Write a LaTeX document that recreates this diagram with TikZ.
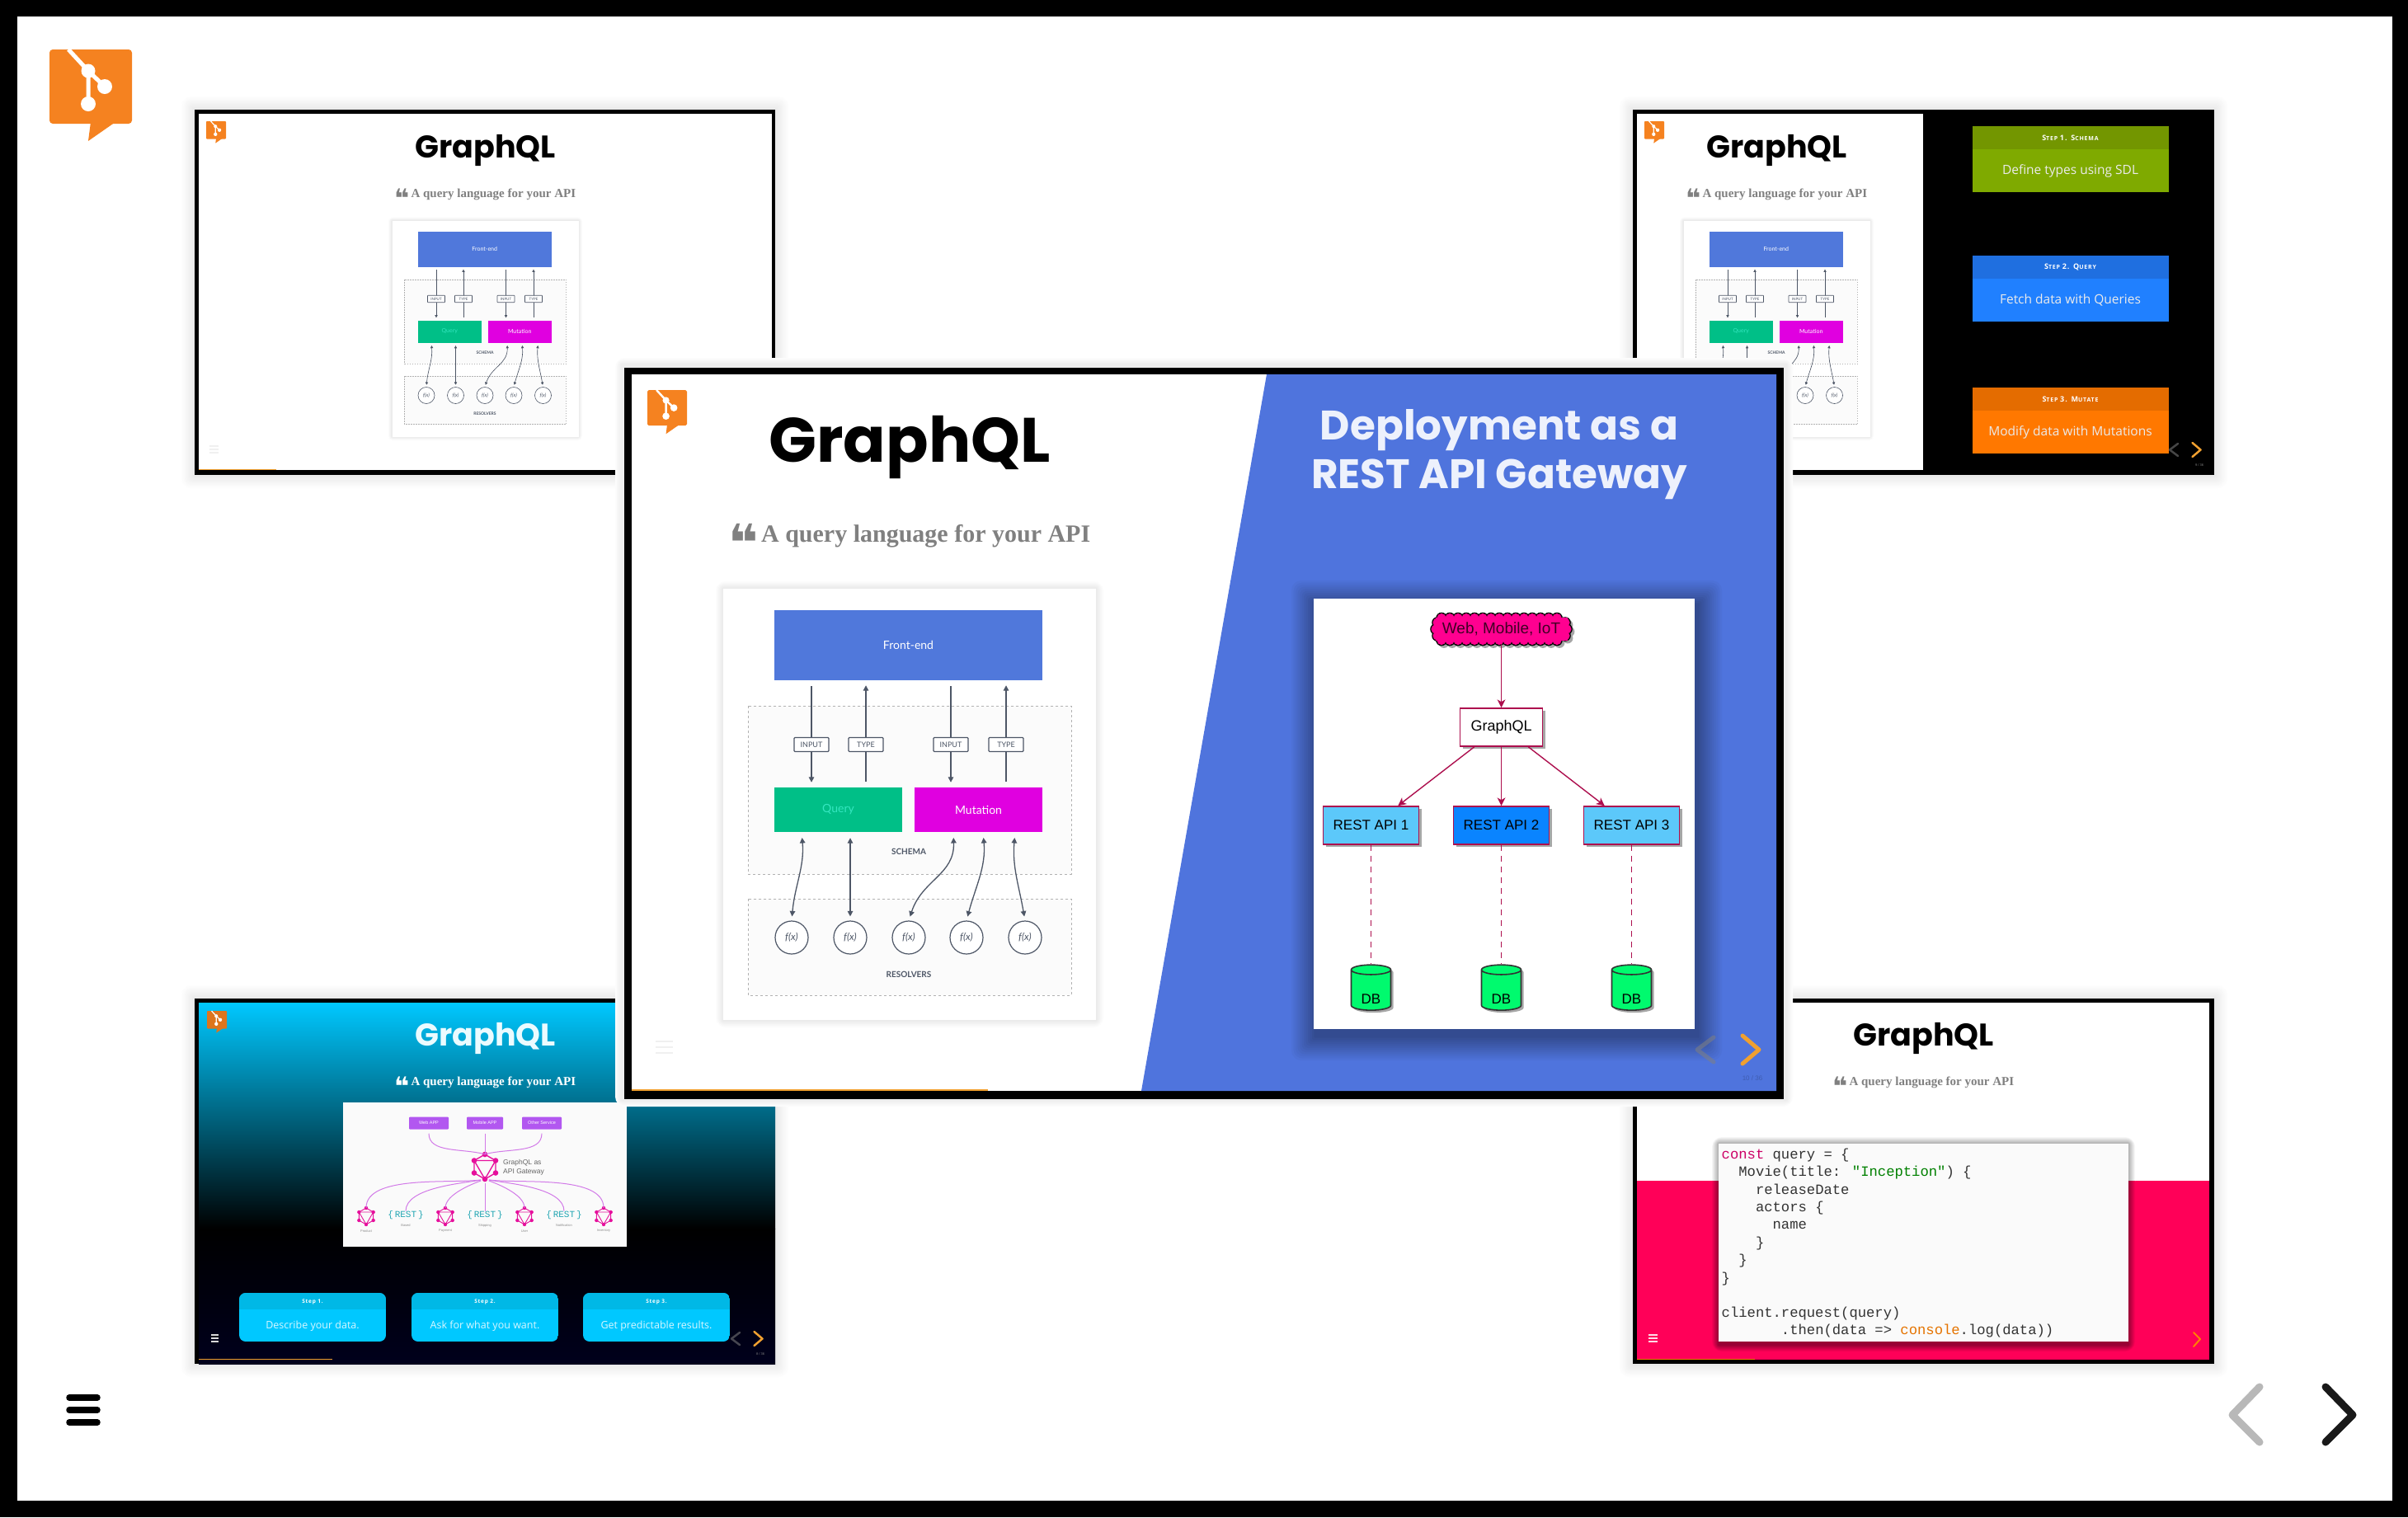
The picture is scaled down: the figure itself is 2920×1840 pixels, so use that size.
\documentclass[tikz,border=0pt]{standalone}
\usepackage{fontspec}
\usepackage{xcolor}
\setmainfont{Liberation Serif}
\newfontfamily\headfont{Poppins}
\newfontfamily\labelfont{Lato}
\newfontfamily\plainfont{Liberation Sans}
\newfontfamily\stepfont{Open Sans}
\newfontfamily\stepcaps[LetterSpace=12]{Open Sans}
\newfontfamily\codefont{Liberation Mono}
\newfontfamily\symfont{DejaVu Sans}
\usetikzlibrary{arrows.meta,calc,shapes.geometric,shadows}

\definecolor{logoorange}{HTML}{F58220}
\definecolor{slideblue}{HTML}{4F74DD}
\definecolor{frontblue}{HTML}{5078DB}
\definecolor{querygreen}{HTML}{00BF87}
\definecolor{querytext}{HTML}{35E6C0}
\definecolor{mutationpink}{HTML}{E000E0}
\definecolor{slate}{HTML}{4D5666}
\definecolor{crimson}{HTML}{AD0F4E}
\definecolor{cloudpink}{HTML}{FF0090}
\definecolor{restlight}{HTML}{5CC8FA}
\definecolor{restdark}{HTML}{0A84FF}
\definecolor{dbgreen}{HTML}{00FA6E}
\definecolor{progress}{HTML}{F0A030}
\definecolor{lilac}{HTML}{D27AE8}
\definecolor{hubpink}{HTML}{E6109C}
\definecolor{appviolet}{HTML}{B257F0}
\definecolor{restteal}{HTML}{22A6B3}
\definecolor{skyblue}{HTML}{00C8FF}
\definecolor{skyhead}{HTML}{00B8E6}
\definecolor{deepnavy}{HTML}{00001C}
\definecolor{redpink}{HTML}{FF0058}
\definecolor{oliveone}{HTML}{739600}
\definecolor{olivetwo}{HTML}{7FAA00}
\definecolor{blueone}{HTML}{1F6FE0}
\definecolor{bluetwo}{HTML}{2080FF}
\definecolor{amberone}{HTML}{E46C00}
\definecolor{ambertwo}{HTML}{FF7800}

\tikzset{
  titlelabel/.style={anchor=base,inner sep=0pt,font=\headfont\bfseries\fontsize{76}{80}\selectfont},
  quotelabel/.style={anchor=base,inner sep=0pt,font=\bfseries\fontsize{30}{36}\selectfont},
  gatewaylabel/.style={anchor=base,inner sep=0pt,text=white!90!slideblue,font=\headfont\bfseries\fontsize{50}{54}\selectfont},
  paneblock/.style={minimum width=#1,inner sep=0pt,text=white,font=\labelfont\fontsize{14}{16}\selectfont},
  flow/.style={draw=slate,line width=1.3pt,shorten >=6pt,shorten <=7pt,-{Triangle[length=0pt 5,width=0pt 5]}},
  lowflow/.style={draw=slate,line width=1.3pt,shorten >=7pt,shorten <=5pt,{Triangle[length=0pt 5,width=0pt 5]}-{Triangle[length=0pt 5,width=0pt 5]}},
  tagbox/.style={draw=slate,fill=white,rounded corners=1pt,line width=1.2pt,minimum width=42,minimum height=17,inner sep=0pt,text=slate,font=\labelfont\fontsize{9}{10}\selectfont},
  fxnode/.style={circle,draw=slate,line width=1.2pt,fill=white,minimum size=40,inner sep=0pt,text=slate,font=\labelfont\itshape\fontsize{12}{13}\selectfont},
  zonebox/.style={draw=black!30,dashed,fill=black!1.5,line width=.8pt},
  zonetag/.style={inner sep=0pt,text=slate,font=\labelfont\bfseries\fontsize{10}{11}\selectfont},
  apibox/.style={rectangle,draw=crimson,line width=1.6pt,minimum width=116,minimum height=46,inner sep=0pt,font=\plainfont\fontsize{17}{19}\selectfont,drop shadow={shadow xshift=3pt,shadow yshift=-3pt,opacity=.35,fill=black}},
  dbcyl/.style={cylinder,shape border rotate=90,aspect=.5,draw=black!80,line width=1.6pt,fill=dbgreen,minimum width=48,minimum height=55,inner sep=0pt,font=\plainfont\fontsize{17}{19}\selectfont,label={[yshift=-11pt,font=\plainfont\fontsize{17}{19}\selectfont]center:DB},drop shadow={shadow xshift=3pt,shadow yshift=-3pt,opacity=.35,fill=black}},
  gatewayline/.style={draw=crimson,line width=1.4pt,-{Stealth[length=0pt 7,width=0pt 7,inset=0pt 2]}},
  gatewaydash/.style={draw=crimson,line width=1.3pt,dash pattern=on 7pt off 6pt},
  stephead/.style={minimum width=238,minimum height=27.5,inner sep=0pt,anchor=north,text=white,font=\stepcaps\bfseries\fontsize{7}{8}\selectfont},
  stepbody/.style={minimum width=238,minimum height=52,inner sep=0pt,anchor=north,text=white!92!black,font=\stepfont\fontsize{15.5}{17}\selectfont},
  code/.style={anchor=base west,inner sep=0pt,text=black!80,font=\codefont\fontsize{17.2}{20}\selectfont},
  applink/.style={draw=lilac,line width=1pt,shorten <=5pt},
  appbox/.style={fill=appviolet,rounded corners=1pt,minimum height=15,inner sep=0pt,text=white,font=\plainfont\fontsize{5.5}{6}\selectfont},
  servicetag/.style={inner sep=0pt,text=black!45,font=\plainfont\fontsize{4}{5}\selectfont},
  restmark/.style={inner sep=0pt,text=restteal,font=\codefont\fontsize{11}{12}\selectfont}
}

\newcommand{\capone}[1]{{\fontsize{9}{9}\selectfont #1}}

\newcommand{\softbox}[7]{%
  \colorlet{softtone}{#5}%
  \foreach \s in {12,11,...,1}{
    \pgfmathsetmacro{\shadeamount}{(13-\s)/12*100}
    \fill[softtone!\shadeamount!#7,rounded corners=\s*1pt] (#1-\s*#6/12,#2-\s*#6/12) rectangle (#3+\s*#6/12,#4+\s*#6/12);
  }
}

\newcommand{\gitlogo}[4]{%
  \begin{scope}[transform canvas={shift={(#1,#2)},scale=#3}]
    \fill[#4,rounded corners=4pt] (0,0) rectangle (100,90);
    \fill[#4] (50,88) -- (47,111) -- (80,88) -- cycle;
    \draw[white,line width=5pt] (23,0) -- (47,26) -- (47,66);
    \draw[white,line width=5pt] (47,26) -- (67,45);
    \fill[white] (47,26) circle (8.5) (67,45) circle (9) (47,66) circle (9);
  \end{scope}
}

\newcommand{\chevrons}[3]{%
  \begin{scope}[transform canvas={shift={(#1,#2)},scale=#3}]
    \draw[gray,opacity=.55,line width=5pt,line cap=round,line join=round] (20,2) -- (0,17) -- (20,32);
    \draw[progress,line width=5pt,line cap=round,line join=round] (55,0) -- (75,17) -- (55,34);
  \end{scope}
}

\newcommand{\puffs}[4]{%
  \foreach \x in {1748,1758,...,1893}{\fill[#4] (\x+#1,749.5+#2) circle (#3) (\x+#1,776.5+#2) circle (#3);}
  \fill[#4] (1741+#1,763+#2) circle (#3) (1900+#1,763+#2) circle (#3) (1743+#1,755+#2) circle (#3) (1743+#1,771+#2) circle (#3) (1898+#1,755+#2) circle (#3) (1898+#1,771+#2) circle (#3);
}

\newcommand{\panehead}[2]{%
  \node[titlelabel,text=#1] (title) at (1103,560) {GraphQL};
  \node[quotelabel,text=#2] (tagline) at (1103,657) {{\symfont\fontsize{62}{62}\selectfont\raisebox{-23pt}{❝}}\kern3pt A query language for your API};
}

\newcommand{\panecard}{%
  \softbox{877}{714}{1329}{1237}{black!8}{9}{white}
  \node[fill=white,minimum width=452,minimum height=523,inner sep=0pt] (card) at (1103,975.5) {};
  \draw[zonebox] (907,856) rectangle (1299,1060);
  \draw[zonebox] (907,1090) rectangle (1299,1207);
  \node[paneblock=325,minimum height=85,fill=frontblue] (frontend) at (1101.5,782.5) {Front-end};
  \node[paneblock=155,minimum height=54,fill=querygreen,text=querytext] (query) at (1016.5,982) {Query};
  \node[paneblock=155,minimum height=54,fill=mutationpink] (mutation) at (1186.5,982) {Mutation};
  \node[inner sep=0pt] (inone) at (984,903) {};
  \node[inner sep=0pt] (typeone) at (1050,903) {};
  \node[inner sep=0pt] (intwo) at (1153,903) {};
  \node[inner sep=0pt] (typetwo) at (1220,903) {};
  \draw[flow] (frontend.south -| inone) -- (query.north -| inone);
  \draw[flow] (query.north -| typeone) -- (frontend.south -| typeone);
  \draw[flow] (frontend.south -| intwo) -- (mutation.north -| intwo);
  \draw[flow] (mutation.north -| typetwo) -- (frontend.south -| typetwo);
  \node[tagbox] at (inone) {INPUT};
  \node[tagbox] at (typeone) {TYPE};
  \node[tagbox] at (intwo) {INPUT};
  \node[tagbox] at (typetwo) {TYPE};
  \node[fxnode] (fone) at (960,1137) {f(x)};
  \node[fxnode] (ftwo) at (1031,1137) {f(x)};
  \node[fxnode] (fthree) at (1102,1137) {f(x)};
  \node[fxnode] (ffour) at (1172,1137) {f(x)};
  \node[fxnode] (ffive) at (1243,1137) {f(x)};
  \coordinate (qone) at (972,1009);
  \coordinate (mone) at (1156,1009);
  \coordinate (mtwo) at (1192,1009);
  \coordinate (mthree) at (1231,1009);
  \draw[lowflow] (fone.north) to[out=85,in=-85] (qone);
  \draw[lowflow] (ftwo.north) -- (query.south -| ftwo);
  \draw[lowflow] (fthree.north) to[out=72,in=-88,looseness=1.1] (mone);
  \draw[lowflow] (ffour.north) to[out=75,in=-85] (mtwo);
  \draw[lowflow] (ffive.north) to[out=100,in=-95] (mthree);
  \node[zonetag] (schema) at (1102,1033) {SCHEMA};
  \node[zonetag] (resolvers) at (1102,1182) {RESOLVERS};
}

\newcommand{\gqlicon}[4]{%
  \node[circle,minimum size=2*#4,inner sep=0pt] (#1) at (#2,#3) {};
  \draw[hubpink,line width=.09*#4,line join=round] ($(#1)+(30:#4)$) -- ($(#1)+(90:#4)$) -- ($(#1)+(150:#4)$) -- ($(#1)+(210:#4)$) -- ($(#1)+(270:#4)$) -- ($(#1)+(330:#4)$) -- cycle;
  \draw[hubpink,line width=.09*#4,line join=round] ($(#1)+(90:#4)$) -- ($(#1)+(210:#4)$) -- ($(#1)+(330:#4)$) -- cycle;
  \foreach \a in {30,90,...,330}{\fill[hubpink] ($(#1)+(\a:#4)$) circle (.22*#4);}
}

\begin{document}
\begin{tikzpicture}[x=1pt,y=-1pt]
  \useasboundingbox (0,0) rectangle (2920,1840);
  \fill[black] (0,0) rectangle (2920,1840);
  \fill[white] (21,20) rectangle (2901,1820);

  \gitlogo{60}{60}{1}{logoorange}
  \foreach \y in {1695,1710,1725}{\draw[black,line width=7.5pt,line cap=round] (84,\y) -- (118,\y);}
  \draw[black!28,line width=9pt,line cap=round,line join=round] (2740,1682) -- (2707,1716) -- (2740,1749);
  \draw[black!90,line width=9pt,line cap=round,line join=round] (2820,1682) -- (2853,1716) -- (2820,1749);

  % top left
  \softbox{236}{133}{940}{576}{black!8}{16}{white}
  \fill[black] (236,133) rectangle (940,576);
  \fill[white] (241,138) rectangle (936,570);
  \fill[progress] (241,568.5) rectangle (335,570);
  \gitlogo{250}{147}{.24}{logoorange}
  \begin{scope}[transform canvas={shift={(37,-89)},scale=.5},name prefix=tl-]
    \panehead{black}{gray}
    \panecard
  \end{scope}
  \foreach \y in {541,545,549}{\draw[black!6,line width=1.5pt] (254,\y) -- (265,\y);}

  % top right
  \softbox{1980}{133}{2685}{576}{black!8}{16}{white}
  \fill[black] (1980,133) rectangle (2685,576);
  \fill[white] (1985,138) rectangle (2332,570);
  \gitlogo{1994}{147}{.24}{logoorange}
  \begin{scope}[transform canvas={shift={(1603,-89)},scale=.5},name prefix=tr-]
    \panehead{black}{gray}
    \panecard
  \end{scope}
  \fill[black] (2332,138) rectangle (2685,570);
  \node[stephead,fill=oliveone] (schemahead) at (2510.5,153) {\capone{S}TEP \capone{1. S}CHEMA};
  \node[stepbody,fill=olivetwo] (schemabody) at (schemahead.south) {Define types using SDL};
  \node[stephead,fill=blueone] (queryhead) at (2510.5,310) {\capone{S}TEP \capone{2. Q}UERY};
  \node[stepbody,fill=bluetwo] (querybody) at (queryhead.south) {Fetch data with Queries};
  \node[stephead,fill=amberone] (mutatehead) at (2510.5,470) {\capone{S}TEP \capone{3. M}UTATE};
  \node[stepbody,fill=ambertwo] (mutatebody) at (mutatehead.south) {Modify data with Mutations};
  \chevrons{2631}{537}{.5}
  \node[inner sep=0pt,text=gray,font=\plainfont\fontsize{4}{5}\selectfont] (trpage) at (2667,564) {9 / 36};

  % bottom left
  \softbox{236}{1211}{940}{1654}{black!8}{16}{white}
  \fill[black] (236,1211) rectangle (940,1654);
  \shade[top color=skyblue,bottom color=black] (241,1216) rectangle (940,1490);
  \shade[top color=black,bottom color=deepnavy] (241,1490) rectangle (940,1654);
  \gitlogo{251}{1226}{.24}{logoorange!90!black}
  \begin{scope}[transform canvas={shift={(37,988)},scale=.5},name prefix=bl-]
    \panehead{white!92!skyblue}{white}
  \end{scope}
  \fill[black!2] (416,1337) rectangle (760,1512);
  \node[appbox,minimum width=48] (webapp) at (520,1362) {Web APP};
  \node[appbox,minimum width=44] (mobileapp) at (588,1362) {Mobile APP};
  \node[appbox,minimum width=48] (otherapp) at (657,1362) {Other Service};
  \gqlicon{hub}{588}{1415}{15}
  \node[anchor=west,inner sep=0pt,align=left,text=black!60,font=\plainfont\fontsize{8.5}{11}\selectfont] (hubname) at (610,1416) {GraphQL as\\API Gateway};
  \gqlicon{product}{444}{1475}{10}
  \gqlicon{payment}{540}{1475}{10}
  \gqlicon{userapi}{636}{1475}{10}
  \gqlicon{inventory}{732}{1475}{10}
  \node[restmark] (based) at (492,1474) {\{\,REST\,\}};
  \node[restmark] (shipping) at (588,1474) {\{\,REST\,\}};
  \node[restmark] (notify) at (684,1474) {\{\,REST\,\}};
  \draw[applink] (webapp.south) to[out=-90,in=165] (hub.north);
  \draw[applink] (mobileapp.south) -- (hub.north);
  \draw[applink] (otherapp.south) to[out=-90,in=15] (hub.north);
  \draw[applink] (hub.south) to[out=-172,in=90,looseness=.7] (product.north);
  \draw[applink] (hub.south) to[out=-170,in=90,looseness=.7] (based.north);
  \draw[applink] (hub.south) to[out=-160,in=90,looseness=.7] (payment.north);
  \draw[applink] (hub.south) -- (shipping.north);
  \draw[applink] (hub.south) to[out=-20,in=90,looseness=.7] (userapi.north);
  \draw[applink] (hub.south) to[out=-10,in=90,looseness=.7] (notify.north);
  \draw[applink] (hub.south) to[out=-8,in=90,looseness=.7] (inventory.north);
  \node[servicetag] (productname) at (444,1493) {Product};
  \node[servicetag] (paymentname) at (540,1493) {Payment};
  \node[servicetag] (username) at (636,1493) {User};
  \node[servicetag] (inventoryname) at (732,1493) {Inventory};
  \node[servicetag] (basedname) at (492,1486) {Based};
  \node[servicetag] (shippingname) at (588,1486) {Shipping};
  \node[servicetag] (notifyname) at (684,1486) {Notification};
  \foreach \x/\n/\h/\b in {290/1/Step 1./Describe your data.,499/2/Step 2./Ask for what you want.,707/3/Step 3./Get predictable results.}{
    \begin{scope}
      \clip[rounded corners=8pt] (\x,1568) rectangle ++(178,59);
      \fill[skyblue] (\x,1568) rectangle ++(178,59);
      \fill[skyhead] (\x,1568) rectangle ++(178,20);
    \end{scope}
    \node[inner sep=0pt,text=white,font=\stepcaps\bfseries\fontsize{6.5}{8}\selectfont] (stephead\n) at (\x+89,1579) {\h};
    \node[inner sep=0pt,text=white!85!skyblue,font=\stepfont\fontsize{12.5}{14}\selectfont] (stepbody\n) at (\x+89,1608) {\b};
  }
  \foreach \y in {1619,1623,1627}{\draw[white!85!black,line width=1.8pt] (256,\y) -- (265,\y);}
  \chevrons{887}{1615}{.5}
  \node[inner sep=0pt,text=gray,font=\plainfont\fontsize{4}{5}\selectfont] (blpage) at (922,1642) {8 / 36};
  \fill[progress] (241,1647.5) rectangle (403,1649);

  % bottom right
  \softbox{1980}{1211}{2685}{1654}{black!8}{16}{white}
  \fill[black] (1980,1211) rectangle (2685,1654);
  \fill[white] (1985,1216) rectangle (2679,1432);
  \fill[redpink] (1985,1432) rectangle (2679,1649);
  \begin{scope}[transform canvas={shift={(1781,988)},scale=.5},name prefix=br-]
    \panehead{black}{gray}
  \end{scope}
  \begin{scope}
    \clip (1985,1216) rectangle (2679,1432);
    \softbox{2084}{1387}{2581}{1631}{black!30}{8}{white}
  \end{scope}
  \begin{scope}
    \clip (1985,1432) rectangle (2679,1649);
    \softbox{2084}{1387}{2581}{1631}{black!40!redpink}{8}{redpink}
  \end{scope}
  \fill[black!2] (2084,1387) rectangle (2581,1627);
  \node[code] (lineone) at (2087.5,1405) {\textcolor{purple!80!magenta}{const} query = \{};
  \node[code] (linetwo) at (2087.5,1426) {\ \ Movie(title: \textcolor{green!50!black}{"Inception"}) \{};
  \node[code] (linethree) at (2087.5,1448) {\ \ \ \ releaseDate};
  \node[code] (linefour) at (2087.5,1469) {\ \ \ \ actors \{};
  \node[code] (linefive) at (2087.5,1490) {\ \ \ \ \ \ name};
  \node[code] (linesix) at (2087.5,1512) {\ \ \ \ \}};
  \node[code] (lineseven) at (2087.5,1533) {\ \ \}};
  \node[code] (lineeight) at (2087.5,1555) {\}};
  \node[code] (linenine) at (2087.5,1597) {client.request(query)};
  \node[code] (lineten) at (2087.5,1618) {\ \ \ \ \ \ \ .then(data => \textcolor{orange!90!black}{console}.log(data))};
  \foreach \y in {1619,1623,1627}{\draw[white!85!redpink,line width=1.5pt] (1999,\y) -- (2010,\y);}
  \draw[orange,line width=2pt,line cap=round,line join=round] (2660,1616) -- (2668,1624) -- (2660,1633);
  \fill[orange] (1985,1647.5) rectangle (2128,1649);

  % centre slide
  \softbox{754}{442}{2166}{1334}{black!7}{8}{white}
  \fill[black] (757,446) rectangle (2163,1333);
  \fill[white] (766,454) rectangle (2154,1323);
  \fill[slideblue] (1536,454) -- (2154,454) -- (2154,1323) -- (1384,1323) -- cycle;
  \fill[progress] (766,1320.5) rectangle (1198,1323);
  \gitlogo{785}{473}{.48}{logoorange}
  \begin{scope}[name prefix=main-]
    \panehead{black}{gray}
    \panecard
  \end{scope}
  \foreach \y in {1263,1270,1277}{\draw[black!6,line width=2.5pt] (795,\y) -- (816,\y);}
  \node[gatewaylabel] (gatewaytop) at (1818,533) {Deployment as a};
  \node[gatewaylabel] (gatewaybottom) at (1818,592) {REST API Gateway};
  \softbox{1596}{734}{2058}{1256}{black!35!slideblue}{30}{slideblue}
  \node[fill=white,minimum width=462,minimum height=522,inner sep=0pt] (gatewaycard) at (1823.5,987) {};
  \puffs{3}{3}{6.4}{black!35}
  \puffs{0}{0}{6.8}{black}
  \puffs{0}{0}{5.6}{cloudpink}
  \node[fill=cloudpink,minimum width=160,minimum height=28,inner sep=0pt,text=black!75!cloudpink,font=\plainfont\fontsize{19}{21}\selectfont] (clients) at (1820.5,763) {Web, Mobile, IoT};
  \node[apibox,fill=white,minimum width=100,font=\plainfont\fontsize{18}{20}\selectfont] (gateway) at (1820.5,882) {GraphQL};
  \node[apibox,fill=restlight] (restone) at (1662.5,1001) {REST API 1};
  \node[apibox,fill=restdark] (resttwo) at (1820.5,1001) {REST API 2};
  \node[apibox,fill=restlight] (restthree) at (1978.5,1001) {REST API 3};
  \node[dbcyl] (dbone) at (1662.5,1201) {\phantom{DB}};
  \node[dbcyl] (dbtwo) at (1820.5,1201) {\phantom{DB}};
  \node[dbcyl] (dbthree) at (1978.5,1201) {\phantom{DB}};
  \draw[gatewayline,shorten <=4pt] (clients.south) -- (gateway.north);
  \draw[gatewayline] (gateway.-144) -- (restone.36);
  \draw[gatewayline] (gateway.south) -- (resttwo.north);
  \draw[gatewayline] (gateway.-36) -- (restthree.144);
  \draw[gatewaydash] (restone.south) -- (dbone.top);
  \draw[gatewaydash] (resttwo.south) -- (dbtwo.top);
  \draw[gatewaydash] (restthree.south) -- (dbthree.top);
  \chevrons{2058}{1256}{1}
  \node[inner sep=0pt,text=slideblue!80!black,font=\plainfont\fontsize{8}{9}\selectfont] (mainpage) at (2125,1308) {10 / 36};
\end{tikzpicture}
\end{document}
